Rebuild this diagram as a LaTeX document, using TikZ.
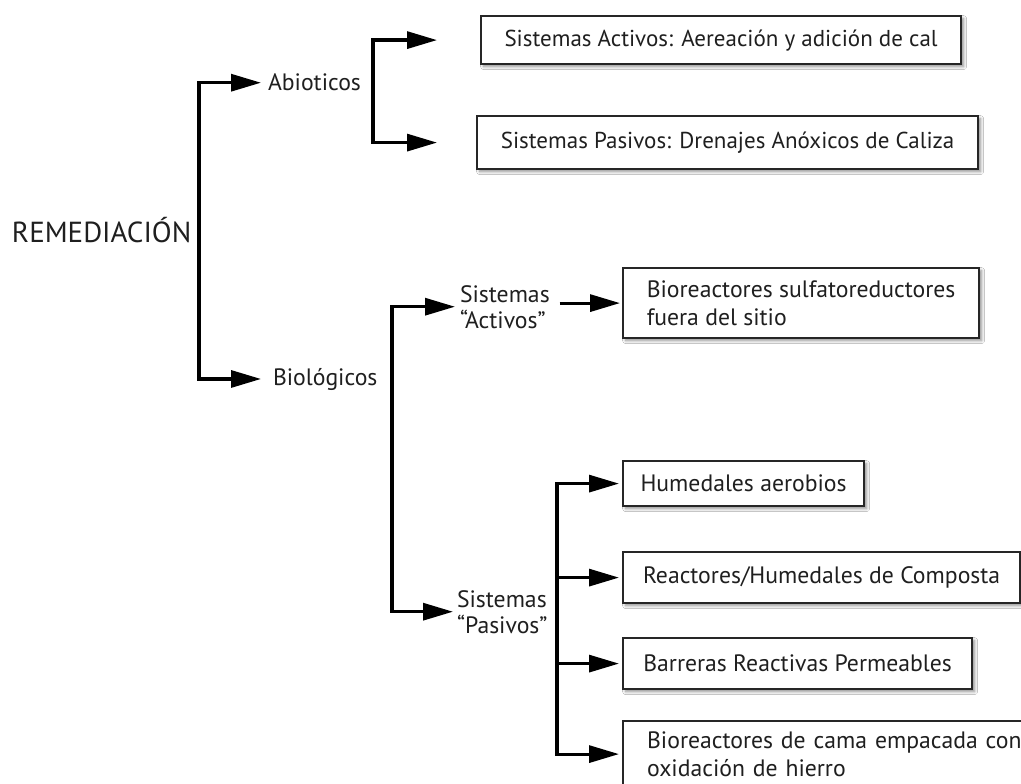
\documentclass[tikz,border=0pt]{standalone}
\usepackage{fontspec}
\setmainfont{PT Sans}
\usetikzlibrary{arrows.meta,shadows.blur}
\begin{document}
\begin{tikzpicture}[x=1pt,y=-1pt,
  arr/.style={line width=3.2pt, -{Triangle[length=30pt,width=17pt]}},
  lbl/.style={inner sep=0pt, outer sep=0pt, text=black!88, font=\fontsize{23.7}{26}\selectfont, align=left},
  box/.style={draw=black!85, line width=2.2pt, fill=white, inner sep=0pt, text=black!88,
    blur shadow={shadow xshift=2.5pt, shadow yshift=-2.5pt, shadow blur steps=6, shadow blur radius=3pt, shadow opacity=45},
    font=\fontsize{23.7}{28}\selectfont, align=center, anchor=north west},
  lbox/.style={box, align=left, inner xsep=24pt}
]
\useasboundingbox (0,0) rectangle (1021,784);
\fill[white] (0,0) rectangle (1021,784);

% labels
\node[lbl, anchor=base west, font=\fontsize{29}{32}\selectfont] (rem) at (12,242) {REMEDIACIÓN};
\node[lbl, anchor=base west] (abio) at (268,91) {Abioticos};
\node[lbl, anchor=base west] (bio) at (273,385) {Biológicos};
\node[lbl, anchor=base west] (sa) at (460,328) {Sistemas\\“Activos”};
\node[lbl, anchor=base west] (sp) at (457,633) {Sistemas\\“Pasivos”};

% boxes
\node[box, minimum width=480pt, minimum height=48pt, font=\fontsize{23}{28}\selectfont] (b1) at (480,15) {Sistemas Activos: Aereación y adición de cal};
\node[box, minimum width=501pt, minimum height=53pt, font=\fontsize{23}{28}\selectfont] (b2) at (476,115) {Sistemas Pasivos: Drenajes Anóxicos de Caliza};
\node[box, align=left, minimum width=356pt, minimum height=70pt] (b3) at (622,267) {Bioreactores sulfatoreductores\\fuera del sitio};
\node[box, minimum width=241pt, minimum height=45pt] (b4) at (622,460) {Humedales aerobios};
\node[box, minimum width=397pt, minimum height=51pt] (b5) at (622,551) {Reactores/Humedales de Composta};
\node[box, minimum width=349pt, minimum height=51pt] (b6) at (622,637) {Barreras Reactivas Permeables};
\node[lbox, text width=400pt, minimum height=66pt] (b7) at (622,720) {Bioreactores de cama empacada con\\oxidación de hierro};

% junctions
\coordinate (j1) at (199,232);
\coordinate (j2) at (373,90);
\coordinate (j3) at (392,380);
\coordinate (j4) at (557,612);

% connectors
\draw[arr, shorten >=7pt] (j1) |- (abio.west);
\draw[arr, shorten >=12pt] (j1) |- (bio.west);
\draw[arr, shorten >=43pt] (j2) |- (b1.west);
\draw[arr, shorten >=39pt] (j2) |- (b2.west);
\draw[arr, shorten >=5pt] (j3) |- (sa.west);
\draw[arr, shorten >=4pt] (j3) |- (sp.west);
\draw[arr, shorten <=10pt, shorten >=2pt] (sa.east |- b3.west) -- (b3.west);
\draw[arr, shorten >=3pt] (j4) |- (b4.west);
\draw[arr, shorten >=3pt] (j4) |- (b5.west);
\draw[arr, shorten >=3pt] (j4) |- (b6.west);
\draw[arr, shorten >=3pt] (j4) |- (b7.west);
\end{tikzpicture}
\end{document}
